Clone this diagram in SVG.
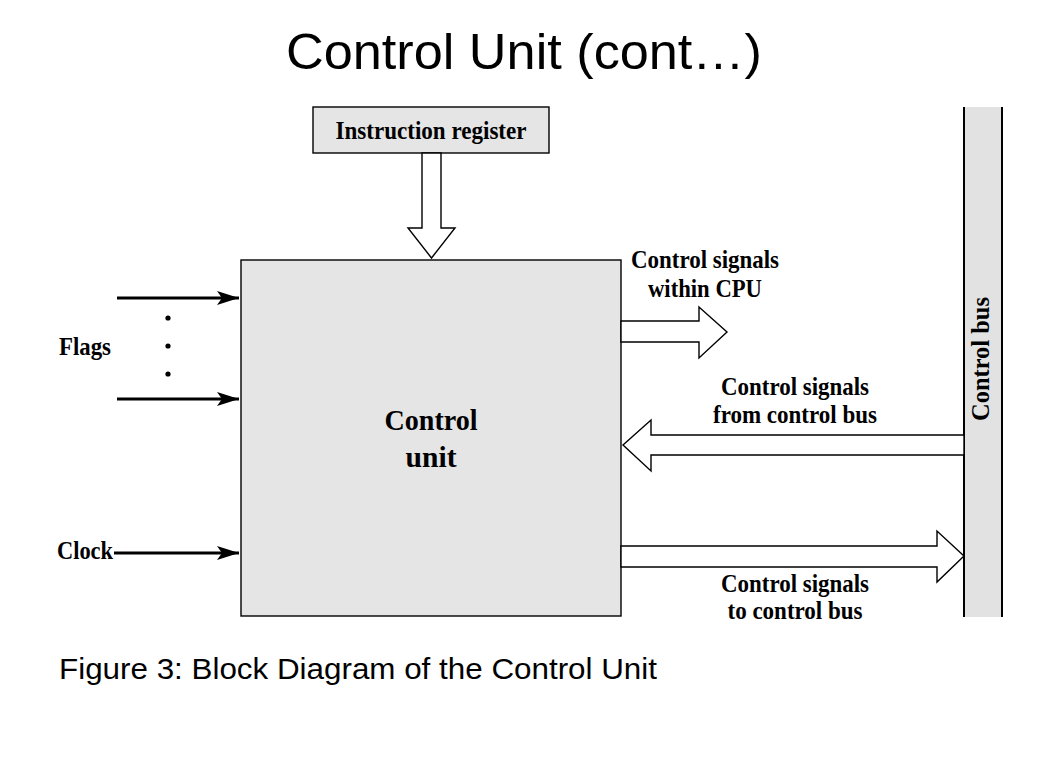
<svg xmlns="http://www.w3.org/2000/svg" width="1046" height="782" viewBox="0 0 1046 782">
<defs>
<style>
.lbl{font-family:"Liberation Serif","Times New Roman",serif;font-weight:bold;font-size:25px;fill:#000;}
.big{font-family:"Liberation Serif","Times New Roman",serif;font-weight:bold;font-size:29px;fill:#000;}
.sans{font-family:"Liberation Sans",Arial,sans-serif;fill:#000;}
.box{fill:#e5e5e5;stroke:#000;stroke-width:1.4;}
.hollow{fill:#fff;stroke:#000;stroke-width:1.4;stroke-linejoin:miter;}
.wire{stroke:#000;stroke-width:3.2;fill:none;}
</style>
<marker id="ah" markerUnits="userSpaceOnUse" markerWidth="24" markerHeight="16" viewBox="0 0 24 16" refX="22" refY="8" orient="auto">
<path d="M0,1 L22,8 L0,15 L5,8 Z" fill="#000"/>
</marker>
</defs>
<rect width="1046" height="782" fill="#fff"/>
<text class="sans" x="524" y="69" font-size="50" text-anchor="middle" textLength="476" lengthAdjust="spacingAndGlyphs">Control Unit (cont…)</text>

<g id="instruction-register">
<rect class="box" x="313" y="107" width="236" height="46"/>
<text class="lbl" x="431" y="139" text-anchor="middle" textLength="191" lengthAdjust="spacingAndGlyphs">Instruction register</text>
</g>

<g id="control-unit">
<rect class="box" x="241" y="260" width="380" height="356"/>
<text class="big" x="431" y="430" text-anchor="middle" textLength="93" lengthAdjust="spacingAndGlyphs">Control</text>
<text class="big" x="431" y="467" text-anchor="middle" textLength="51" lengthAdjust="spacingAndGlyphs">unit</text>
</g>

<g id="control-bus">
<rect x="964" y="107" width="38" height="510" fill="#e2e2e2"/>
<line x1="964" y1="107" x2="964" y2="617" stroke="#000" stroke-width="2"/>
<line x1="1002" y1="107" x2="1002" y2="617" stroke="#000" stroke-width="2"/>
<text class="lbl" transform="translate(989,359) rotate(-90)" text-anchor="middle" textLength="124" lengthAdjust="spacingAndGlyphs">Control bus</text>
</g>

<g id="flags">
<text class="lbl" x="59" y="355" textLength="52" lengthAdjust="spacingAndGlyphs">Flags</text>
<circle cx="168" cy="318" r="2.6" fill="#000"/>
<circle cx="168" cy="346" r="2.6" fill="#000"/>
<circle cx="168" cy="374" r="2.6" fill="#000"/>
</g>

<g id="clock">
<text class="lbl" x="57" y="559" textLength="56" lengthAdjust="spacingAndGlyphs">Clock</text>
</g>

<g id="connectors">
<line class="wire" x1="117" y1="298" x2="239" y2="298" marker-end="url(#ah)"/>
<line class="wire" x1="117" y1="399" x2="239" y2="399" marker-end="url(#ah)"/>
<line class="wire" x1="114" y1="553" x2="239" y2="553" marker-end="url(#ah)"/>
<polygon class="hollow" points="422,153 422,228 408,228 431.5,258 455,228 441,228 441,153"/>
<polygon class="hollow" points="621,321 699,321 699,307 727,332 699,358 699,342 621,342"/>
<polygon class="hollow" points="964,435 651,435 651,420 623,445 651,471 651,455 964,455"/>
<polygon class="hollow" points="621,546 937,546 937,531 964,556 937,582 937,567 621,567"/>
</g>

<g id="labels">
<text class="lbl" x="705" y="268" text-anchor="middle" textLength="148" lengthAdjust="spacingAndGlyphs">Control signals</text>
<text class="lbl" x="705" y="297" text-anchor="middle" textLength="114" lengthAdjust="spacingAndGlyphs">within CPU</text>
<text class="lbl" x="795" y="395" text-anchor="middle" textLength="148" lengthAdjust="spacingAndGlyphs">Control signals</text>
<text class="lbl" x="795" y="423" text-anchor="middle" textLength="164" lengthAdjust="spacingAndGlyphs">from control bus</text>
<text class="lbl" x="795" y="592" text-anchor="middle" textLength="148" lengthAdjust="spacingAndGlyphs">Control signals</text>
<text class="lbl" x="795" y="619" text-anchor="middle" textLength="135" lengthAdjust="spacingAndGlyphs">to control bus</text>
</g>

<text class="sans" x="59" y="679" font-size="30" textLength="598" lengthAdjust="spacingAndGlyphs">Figure 3: Block Diagram of the Control Unit</text>
</svg>
